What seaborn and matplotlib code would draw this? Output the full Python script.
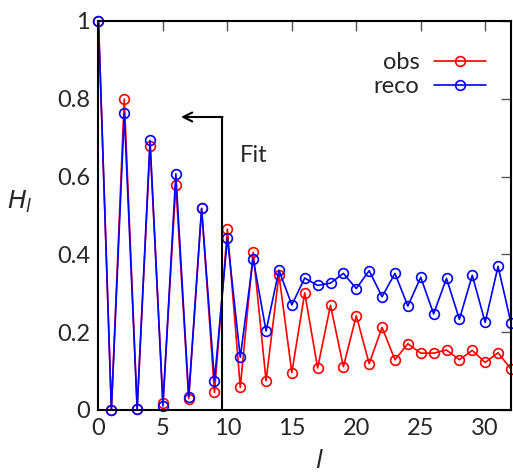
import matplotlib
matplotlib.use("Agg")
import matplotlib.pyplot as plt
import seaborn as sns
import numpy as np
import pandas as pd

l_vals = list(range(0, 33))
obs = [1.0, 0.0, 0.799, 0.003, 0.679, 0.019, 0.578, 0.029, 0.518, 0.045,
       0.465, 0.058, 0.405, 0.075, 0.347, 0.096, 0.301, 0.108, 0.269, 0.111,
       0.242, 0.119, 0.212, 0.129, 0.170, 0.146, 0.146, 0.154, 0.129, 0.153,
       0.122, 0.147, 0.105]
reco = [1.0, 0.0, 0.762, 0.003, 0.693, 0.010, 0.607, 0.034, 0.518, 0.075,
        0.442, 0.135, 0.389, 0.203, 0.359, 0.270, 0.339, 0.320, 0.326, 0.351,
        0.312, 0.358, 0.291, 0.351, 0.267, 0.341, 0.247, 0.338, 0.233, 0.346,
        0.225, 0.369, 0.224]
x_ticks = [0, 5, 10, 15, 20, 25, 30]
y_ticks = [0, 0.2, 0.4, 0.6, 0.8, 1.0]
y_tick_labels = ["0", "0.2", "0.4", "0.6", "0.8", "1"]

sns.set_style("white")
plt.rcParams["font.family"] = ["Lato", "DejaVu Sans"]

fig = plt.figure(figsize=(5.13, 4.75), dpi=100)
ax = fig.add_axes([0.192, 0.137, 0.804, 0.819])

df = pd.DataFrame({"l": l_vals, "obs": obs, "reco": reco})
for name, col in [("obs", "#ff0000"), ("reco", "#0000ff")]:
    sns.lineplot(data=df, x="l", y=name, ax=ax, color=col, marker="o",
                 markersize=7, markerfacecolor="none", markeredgecolor=col,
                 markeredgewidth=1.2, linewidth=1.2, label=name, clip_on=False)

ax.set_xlim(0, 32)
ax.set_ylim(0, 1)
ax.set_xticks(x_ticks)
ax.set_yticks(y_ticks)
ax.set_yticklabels(y_tick_labels)
ax.tick_params(direction="in", length=7, width=1, color="#555555",
               top=True, right=True, labelsize=17, pad=6)
for s in ax.spines.values():
    s.set_color("black")
    s.set_linewidth(1.5)
ax.set_xlabel("$l$", fontsize=18)
ax.set_ylabel("$H_l$", fontsize=18, rotation=0)
ax.yaxis.set_label_coords(-0.19, 0.5)
ax.xaxis.set_label_coords(0.535, -0.1)

# Fit region marker
ax.plot([9.55, 9.55], [0, 0.753], color="black", lw=1.5)
ax.annotate("", xy=(6.4, 0.753), xytext=(9.62, 0.753),
            arrowprops=dict(arrowstyle="->", color="black", lw=1.5,
                            mutation_scale=16, shrinkA=0, shrinkB=0))
ax.text(11.0, 0.655, "Fit", fontsize=17, va="center", ha="left")

leg = ax.legend(loc="upper right", frameon=False, markerfirst=False,
                fontsize=17, handlelength=2.2, bbox_to_anchor=(0.99, 0.975),
                labelspacing=0.15, handletextpad=0.6)

fig.savefig("out.png", dpi=100)
